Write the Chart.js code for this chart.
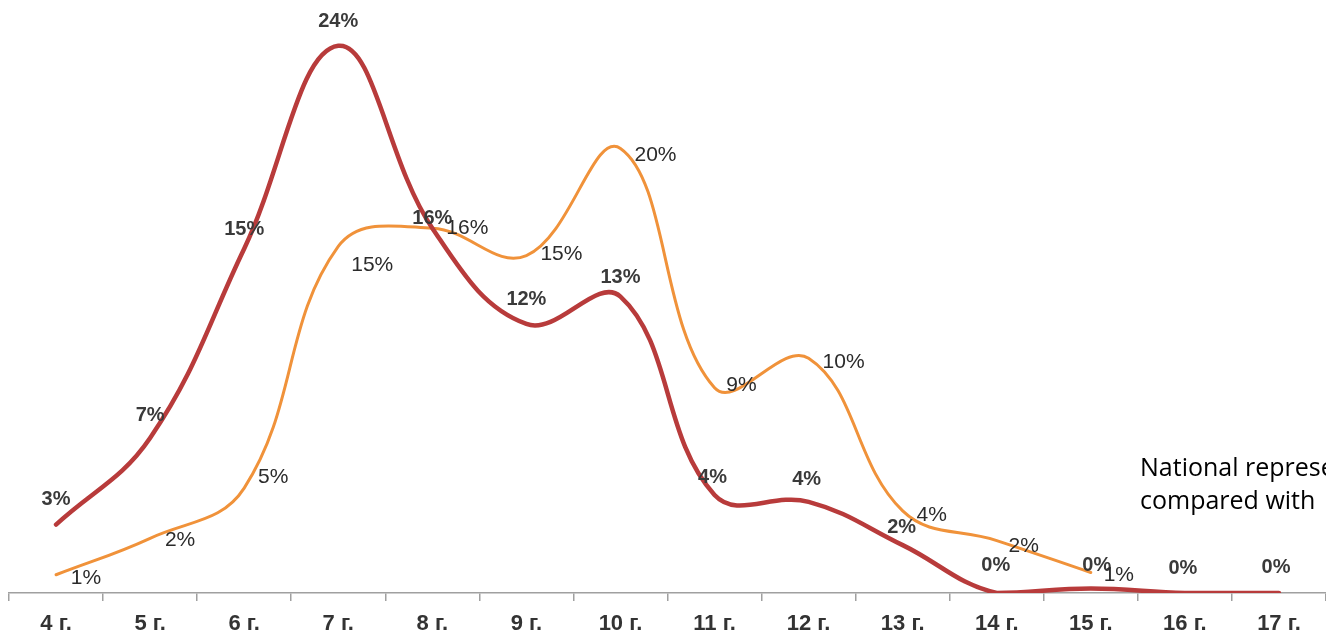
<!DOCTYPE html>
<html>
<head>
<meta charset="utf-8">
<script src="https://cdn.jsdelivr.net/npm/chart.js@4/dist/chart.umd.min.js"></script>
<style>
  html, body { margin: 0; padding: 0; background: #fff; overflow: hidden; }
  #wrap { position: relative; width: 1326px; height: 634px; overflow: hidden; }
  #note { position: absolute; left: 1140px; top: 450px; font-family: "Open Sans", "Noto Sans", sans-serif;
          font-size: 25px; line-height: 33px; color: #000; white-space: nowrap; }
</style>
</head>
<body>
<div id="wrap">
  <canvas id="c" width="1326" height="634"></canvas>
  <div id="note">National representative<br>compared with</div>
</div>
<script>
// ---- data ----
const categories = ["4 г.", "5 г.", "6 г.", "7 г.", "8 г.", "9 г.", "10 г.", "11 г.", "12 г.", "13 г.", "14 г.", "15 г.", "16 г.", "17 г."];
const redValues    = [3, 6.8, 15.1, 24, 16, 11.8, 13, 4.3, 4, 2.1, 0, 0.2, 0, 0];
const orangeValues = [0.8, 2.4, 4.6, 15.2, 16, 14.8, 19.5, 9, 10.3, 3.6, 2.3, 0.9, null, null];
const redLabels    = ["3%", "7%", "15%", "24%", "16%", "12%", "13%", "4%", "4%", "2%", "0%", "0%", "0%", "0%"];
const orangeLabels = ["1%", "2%", "5%", "15%", "16%", "15%", "20%", "9%", "10%", "4%", "2%", "1%", null, null];

// label offsets (styling only)
const redOffsets = [[0,-25],[0,-22],[0,-19],[0,-24],[0,-10],[0,-24],[0,-19],[-2,-17],[-2,-22],[-1,-18],[-1,-28],[6,-23],[-2,-25],[-3,-26]];
const orangeOffsets = [[30,3],[30,2],[29,-11],[34,19],[35,0],[35,-1],[35,7],[27,-3],[35,4],[29,4],[27,6],[28,3]];

const labelPlugin = {
  id: 'pointLabels',
  afterDatasetsDraw(chart) {
    const ctx = chart.ctx;
    const sets = [
      { idx: 0, labels: redLabels, offs: redOffsets, font: 'bold 20px "Liberation Sans", Arial, sans-serif', color: '#3a3a3a' },
      { idx: 1, labels: orangeLabels, offs: orangeOffsets, font: '21px "Liberation Sans", Arial, sans-serif', color: '#2b2b2b' }
    ];
    ctx.save();
    ctx.textAlign = 'center';
    ctx.textBaseline = 'middle';
    sets.forEach(s => {
      const meta = chart.getDatasetMeta(s.idx);
      meta.data.forEach((pt, i) => {
        const t = s.labels[i];
        if (t == null || pt.skip) return;
        const o = s.offs[i] || [0, -22];
        ctx.font = s.font;
        ctx.fillStyle = s.color;
        ctx.fillText(t, pt.x + o[0], pt.y + o[1]);
      });
    });
    ctx.restore();
  }
};

new Chart(document.getElementById('c'), {
  type: 'line',
  data: {
    labels: categories,
    datasets: [
      { data: redValues, borderColor: '#b83b3b', borderWidth: 4.5, pointRadius: 0, tension: 0.4, fill: false, borderCapStyle: 'round' },
      { data: orangeValues, borderColor: '#f0923a', borderWidth: 3, pointRadius: 0, tension: 0.4, fill: false, spanGaps: false, borderCapStyle: 'round' }
    ]
  },
  options: {
    responsive: false,
    animation: false,
    devicePixelRatio: 1,
    layout: { padding: { left: 9, right: 0, top: 23, bottom: 0 } },
    plugins: { legend: { display: false }, tooltip: { enabled: false } },
    scales: {
      x: {
        offset: true,
        grid: { offset: true, drawOnChartArea: false, drawTicks: true, tickLength: 8, color: '#a0a0a0', lineWidth: 1.5 },
        border: { display: true, color: '#a0a0a0', width: 1.5 },
        ticks: { color: '#333', font: { family: '"Liberation Sans", Arial, sans-serif', size: 22, weight: 'bold' }, padding: 10, maxRotation: 0, autoSkip: false },
        afterFit(scale) { scale.height = 41; }
      },
      y: {
        display: false,
        min: 0, max: 25
      }
    }
  },
  plugins: [labelPlugin]
});
</script>
</body>
</html>
